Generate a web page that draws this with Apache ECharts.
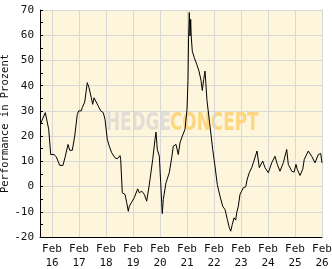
<!DOCTYPE html>
<html>
<head>
<meta charset="utf-8">
<script src="https://cdn.jsdelivr.net/npm/echarts@6/dist/echarts.min.js"></script>
<style>html,body{margin:0;padding:0;background:#fff}#c{width:332px;height:269px}</style>
</head>
<body>
<div id="c"></div>
<script>
// Decimal years (Feb 1 of a year = year + 0.085)
const dates = [2015.666,2015.837,2015.911,2015.963,2016.037,2016.085,2016.159,2016.244,2016.307,2016.370,2016.492,2016.578,2016.678,2016.741,2016.837,2016.926,2017.022,2017.074,2017.170,2017.207,2017.296,2017.392,2017.455,2017.541,2017.592,2017.641,2017.715,2017.800,2017.889,2017.985,2018.048,2018.133,2018.207,2018.296,2018.418,2018.504,2018.604,2018.629,2018.689,2018.789,2018.852,2018.911,2018.948,2019.037,2019.133,2019.259,2019.318,2019.407,2019.504,2019.592,2019.652,2019.715,2019.815,2019.900,2019.937,2019.985,2020.059,2020.111,2020.148,2020.170,2020.207,2020.307,2020.429,2020.518,2020.578,2020.678,2020.763,2020.826,2020.911,2021.011,2021.085,2021.122,2021.144,2021.170,2021.196,2021.222,2021.241,2021.281,2021.355,2021.444,2021.529,2021.604,2021.652,2021.704,2021.752,2021.778,2021.826,2021.937,2022.037,2022.122,2022.207,2022.307,2022.407,2022.492,2022.578,2022.652,2022.704,2022.763,2022.826,2022.889,2022.926,2022.985,2023.048,2023.111,2023.170,2023.259,2023.318,2023.392,2023.481,2023.541,2023.604,2023.678,2023.763,2023.889,2023.974,2024.096,2024.222,2024.344,2024.429,2024.529,2024.652,2024.778,2024.837,2024.963,2025.048,2025.122,2025.170,2025.270,2025.370,2025.429,2025.578,2025.704,2025.826,2025.948,2026.037,2026.085];
const performance = [25,29.3,29.3,22.7,12.7,12,12.7,11.8,12,8.4,8.4,12,16.7,14.4,14.4,20,28.6,30,30,31.3,33.5,41.2,39.2,35.2,32.6,35.2,34.6,31.9,30,29.3,26.6,18.7,16,13.4,11.4,11,12.3,10.7,-2.5,-3.1,-6.4,-9.8,-7.8,-6.2,-4.4,-0.9,-2.5,-1.8,-3.1,-5.8,-1.8,2.8,10.8,18.7,21.6,14.7,12.1,1.5,-6.4,-10.7,-5.1,1.5,5.5,11.4,16,16.7,12.7,17.4,20,22.7,30.6,42,59,69,59.7,66.3,59.7,53.7,51.1,48.5,45.8,42.1,38.1,42.5,45.8,41.8,34,24,14.7,8.1,0.8,-3.8,-7.8,-9.1,-13,-16.3,-17.7,-15,-12.4,-13.3,-10.4,-7.8,-3.1,-1.8,-0.5,-0.1,3,5.5,7.5,9.4,10.1,14.1,7.5,10.1,7.5,5.5,9.4,12,8.8,6.1,9.4,14.7,8.8,6.1,5.7,8.8,6.8,4.4,6.8,10.8,14.1,12,9.4,12.7,13.1,9.4];
const tickYears = [2016,2017,2018,2019,2020,2021,2022,2023,2024,2025,2026];
const tickMonth = 'Feb';
const yTicks = {min:-20, max:70, interval:10};
const yTitle = 'Performance in Prozent';
const watermark = ['HEDGE', 'CONCEPT'];

const FEB = 0.085;
const tickPos = tickYears.map(y => y + FEB);
const font = 'DejaVu Sans Mono';
const wmFont = 'bold 24px "DejaVu Sans Condensed"';
const chart = echarts.init(document.getElementById('c'), null, {renderer:'canvas'});
chart.setOption({
  animation:false,
  backgroundColor:'#ffffff',
  grid:{left:40, right:10, top:10, bottom:32, containLabel:false, outerBoundsMode:'none',
        show:true, backgroundColor:'#fdf5dc', borderWidth:0, z:-2},
  graphic:[
    {type:'text', z:-1, x:106, y:112, scaleX:0.78, style:{text:watermark[0], fill:'#e2ded6', font:wmFont}},
    {type:'text', z:-1, x:170, y:112, scaleX:0.78, style:{text:watermark[1], fill:'#fdd67f', font:wmFont}}
  ],
  xAxis:{
    type:'value', min:tickPos[0] - 12/27, max:tickPos[tickPos.length-1],
    axisLine:{show:true, onZero:false, lineStyle:{color:'#000', width:1}},
    axisTick:{show:true, length:0, customValues:tickPos},
    splitLine:{show:true, lineStyle:{color:'#d8d8d8', width:1}},
    axisLabel:{customValues:tickPos, margin:5, color:'#111', fontFamily:font, fontSize:11, lineHeight:14,
      formatter: v => tickMonth + '\n' + String(Math.round(v - FEB)).slice(2)},
  },
  yAxis:{
    type:'value', min:yTicks.min, max:yTicks.max, interval:yTicks.interval,
    name:yTitle, nameLocation:'middle', nameGap:29, nameRotate:90, nameMoveOverlap:false,
    nameTextStyle:{fontFamily:font, fontSize:10.5, color:'#111'},
    axisLine:{show:true, lineStyle:{color:'#000', width:1}},
    axisTick:{show:true, inside:true, length:3, lineStyle:{color:'#000'}},
    minorTick:{show:true, splitNumber:2, length:3, lineStyle:{color:'#000'}},
    splitLine:{show:true, lineStyle:{color:'#d8d8d8', width:1}},
    axisLabel:{margin:6, color:'#111', fontFamily:font, fontSize:11}
  },
  series:[{
    type:'line', data:dates.map((d,i)=>[d, performance[i]]), showSymbol:false, symbol:'none',
    lineStyle:{color:'#000', width:1}, z:5
  }]
});
</script>
</body>
</html>
